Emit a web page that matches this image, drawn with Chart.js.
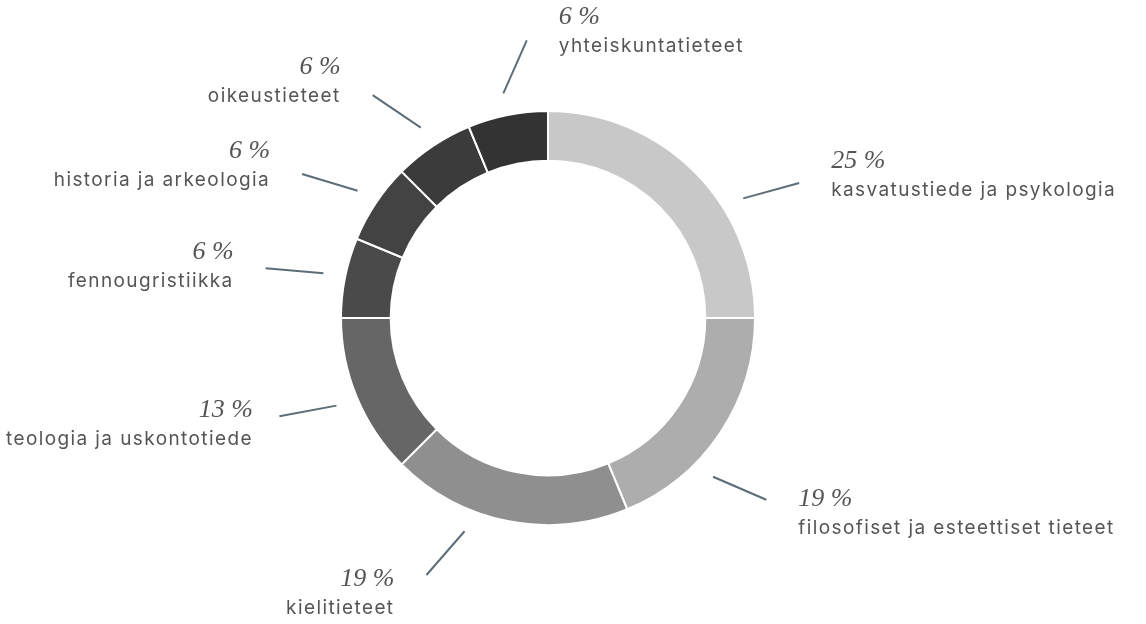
<!DOCTYPE html>
<html>
<head>
<meta charset="utf-8">
<script src="https://cdn.jsdelivr.net/npm/chart.js@4"></script>
<style>
  html, body { margin: 0; padding: 0; background: #fff; }
  #wrap { width: 1146px; height: 624px; }
</style>
</head>
<body>
<div id="wrap"><canvas id="chart"></canvas></div>
<script>
'use strict';

// Tieteenalat ja lukumäärät (prosentit lasketaan näistä)
const categories = [
    'kasvatustiede ja psykologia',
    'filosofiset ja esteettiset tieteet',
    'kielitieteet',
    'teologia ja uskontotiede',
    'fennougristiikka',
    'historia ja arkeologia',
    'oikeustieteet',
    'yhteiskuntatieteet'
];
const counts = [4, 3, 3, 2, 1, 1, 1, 1];
const sliceColors = ['#c8c8c8', '#adadad', '#8f8f8f', '#666666', '#4a4a4a', '#434343', '#3b3b3b', '#333333'];

const total = counts.reduce((a, b) => a + b, 0);
const percents = counts.map(c => Math.round(c / total * 100) + ' %');

// Etiketit ja viivat renkaan ulkopuolelle
const outsideLabels = {
    id: 'outsideLabels',
    afterDraw(chart) {
        const ctx = chart.ctx;
        const W = chart.width, H = chart.height;
        const meta = chart.getDatasetMeta(0);
        ctx.save();
        meta.data.forEach((arc, i) => {
            // isoilla sektoreilla viiva vähän keskikohdan jälkeen
            const frac = counts[i] / total >= 0.15 ? 0.65 : 0.5;
            const a = arc.startAngle + (arc.endAngle - arc.startAngle) * frac;
            const cos = Math.cos(a), sin = Math.sin(a);
            const r1 = arc.outerRadius + 22;
            const sx = arc.x + cos * r1, sy = arc.y + sin * r1;

            // suunta painottuu vaakasuuntaan
            let dx = cos, dy = sin * 0.45;
            const len = Math.hypot(dx, dy);
            dx /= len; dy /= len;
            if (sin < -0.95) dx = Math.abs(dx);   // ylhäällä oikealle
            if (sin > 0.95) dx = -Math.abs(dx);   // alhaalla vasemmalle
            const ex = sx + dx * 58, ey = sy + dy * 58;

            ctx.strokeStyle = '#5d6d78';
            ctx.lineWidth = 2;
            ctx.beginPath();
            ctx.moveTo(sx, sy);
            ctx.lineTo(ex, ey);
            ctx.stroke();

            const right = dx >= 0;
            let pctY = ey + 18 * sin - 6;
            pctY = Math.max(pctY, 24);
            pctY = Math.min(pctY, H - 8 - 28);

            ctx.font = '19px Inter, Lato, sans-serif';
            ctx.letterSpacing = '1.4px';
            const w = ctx.measureText(categories[i]).width;
            let tx = right ? ex + 32 : ex - 32;
            if (right) tx = Math.min(tx, W - 6 - w);
            else tx = Math.max(tx, 6 + w);

            ctx.textAlign = right ? 'left' : 'right';
            ctx.textBaseline = 'alphabetic';
            ctx.fillStyle = '#555555';
            ctx.fillText(categories[i], tx, pctY + 28);
            ctx.letterSpacing = '0px';
            ctx.font = 'italic 26px "Liberation Serif", serif';
            ctx.fillText(percents[i], tx, pctY);
        });
        ctx.restore();
    }
};

const chartConfig = {
    type: 'doughnut',
    data: {
        labels: categories,
        datasets: [{
            data: counts,
            backgroundColor: sliceColors,
            borderColor: '#ffffff',
            borderWidth: 2
        }]
    },
    options: {
        responsive: true,
        maintainAspectRatio: false,
        animation: false,
        cutout: '76%',
        layout: {
            padding: { top: 110, bottom: 98, left: 0, right: 50 }
        },
        plugins: {
            legend: { display: false },
            tooltip: { enabled: false }
        }
    },
    plugins: [outsideLabels]
};

new Chart(document.getElementById('chart'), chartConfig);
</script>
</body>
</html>
